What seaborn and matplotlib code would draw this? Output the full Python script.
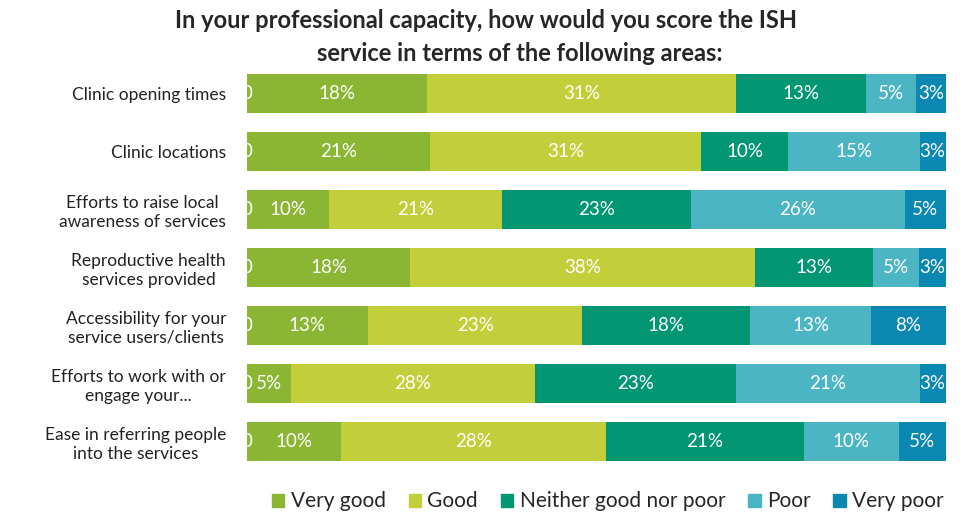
import matplotlib
matplotlib.use("Agg")
import matplotlib.pyplot as plt
import seaborn as sns
import pandas as pd
import numpy as np

# data (percent of respondents)
areas = [
    "Clinic opening times",
    "Clinic locations",
    "Efforts to raise local\nawareness of services",
    "Reproductive health\nservices provided",
    "Accessibility for your\nservice users/clients",
    "Efforts to work with or\nengage your...",
    "Ease in referring people\ninto the services",
]
ratings = ["Very good", "Good", "Neither good nor poor", "Poor", "Very poor"]
very_good = [18, 21, 10, 18, 13, 5, 10]
good = [31, 31, 21, 38, 23, 28, 28]
neither = [13, 10, 23, 13, 18, 23, 21]
poor = [5, 15, 26, 5, 13, 21, 10]
very_poor = [3, 3, 5, 3, 8, 3, 5]

colors = ["#8BB634", "#C2CF3B", "#029673", "#4CB5C4", "#0A88B2"]

sns.set_theme(style="white")
plt.rcParams["font.family"] = ["Lato", "DejaVu Sans"]

df = pd.DataFrame({"area": areas, "Very good": very_good, "Good": good,
                   "Neither good nor poor": neither, "Poor": poor,
                   "Very poor": very_poor})
vals = df[ratings]
share = vals.div(vals.sum(axis=1), axis=0) * 100
cum = share.cumsum(axis=1)

fig = plt.figure(figsize=(9.68, 5.17), dpi=100)
ax = fig.add_axes([0.255, 0.089, 0.722, 0.787])

# stacked bars: draw from the total backwards so each layer sits on top
for r, c in zip(ratings[::-1], colors[::-1]):
    sns.barplot(x=cum[r], y=df["area"], color=c, orient="h", width=0.67,
                ax=ax, saturation=1, edgecolor="none")

ax.set_xlim(0, 100)
ax.set_xlabel("")
ax.set_ylabel("")
ax.set_xticks([])
for s in ax.spines.values():
    s.set_visible(False)
ax.tick_params(axis="y", length=0, pad=15, labelsize=12.5)
for t in ax.get_yticklabels():
    t.set_multialignment("center")
    t.set_color("#222222")

# segment labels
for i in range(len(areas)):
    ax.text(0, i, "0", ha="center", va="center", color="white",
            fontsize=13.5, clip_on=True)
    for r in ratings:
        mid = cum.loc[i, r] - share.loc[i, r] / 2
        ax.text(mid, i, f"{vals.loc[i, r]}%", ha="center", va="center",
                color="white", fontsize=13.5, clip_on=True)

handles = [plt.Rectangle((0, 0), 1, 1, color=c) for c in colors]
fig.legend(handles, ratings, loc="center", bbox_to_anchor=(0.628, 0.03),
           ncol=5, frameon=False, fontsize=15, handlelength=0.6,
           handleheight=0.6, handletextpad=0.3, columnspacing=1.1)

title_font = dict(ha="center", va="center", fontsize=17, fontweight="bold")
fig.text(0.502, 0.96, "In your professional capacity, how would you score the ISH", **title_font)
fig.text(0.537, 0.897, "service in terms of the following areas:", **title_font)

fig.savefig("out.png", dpi=100)
